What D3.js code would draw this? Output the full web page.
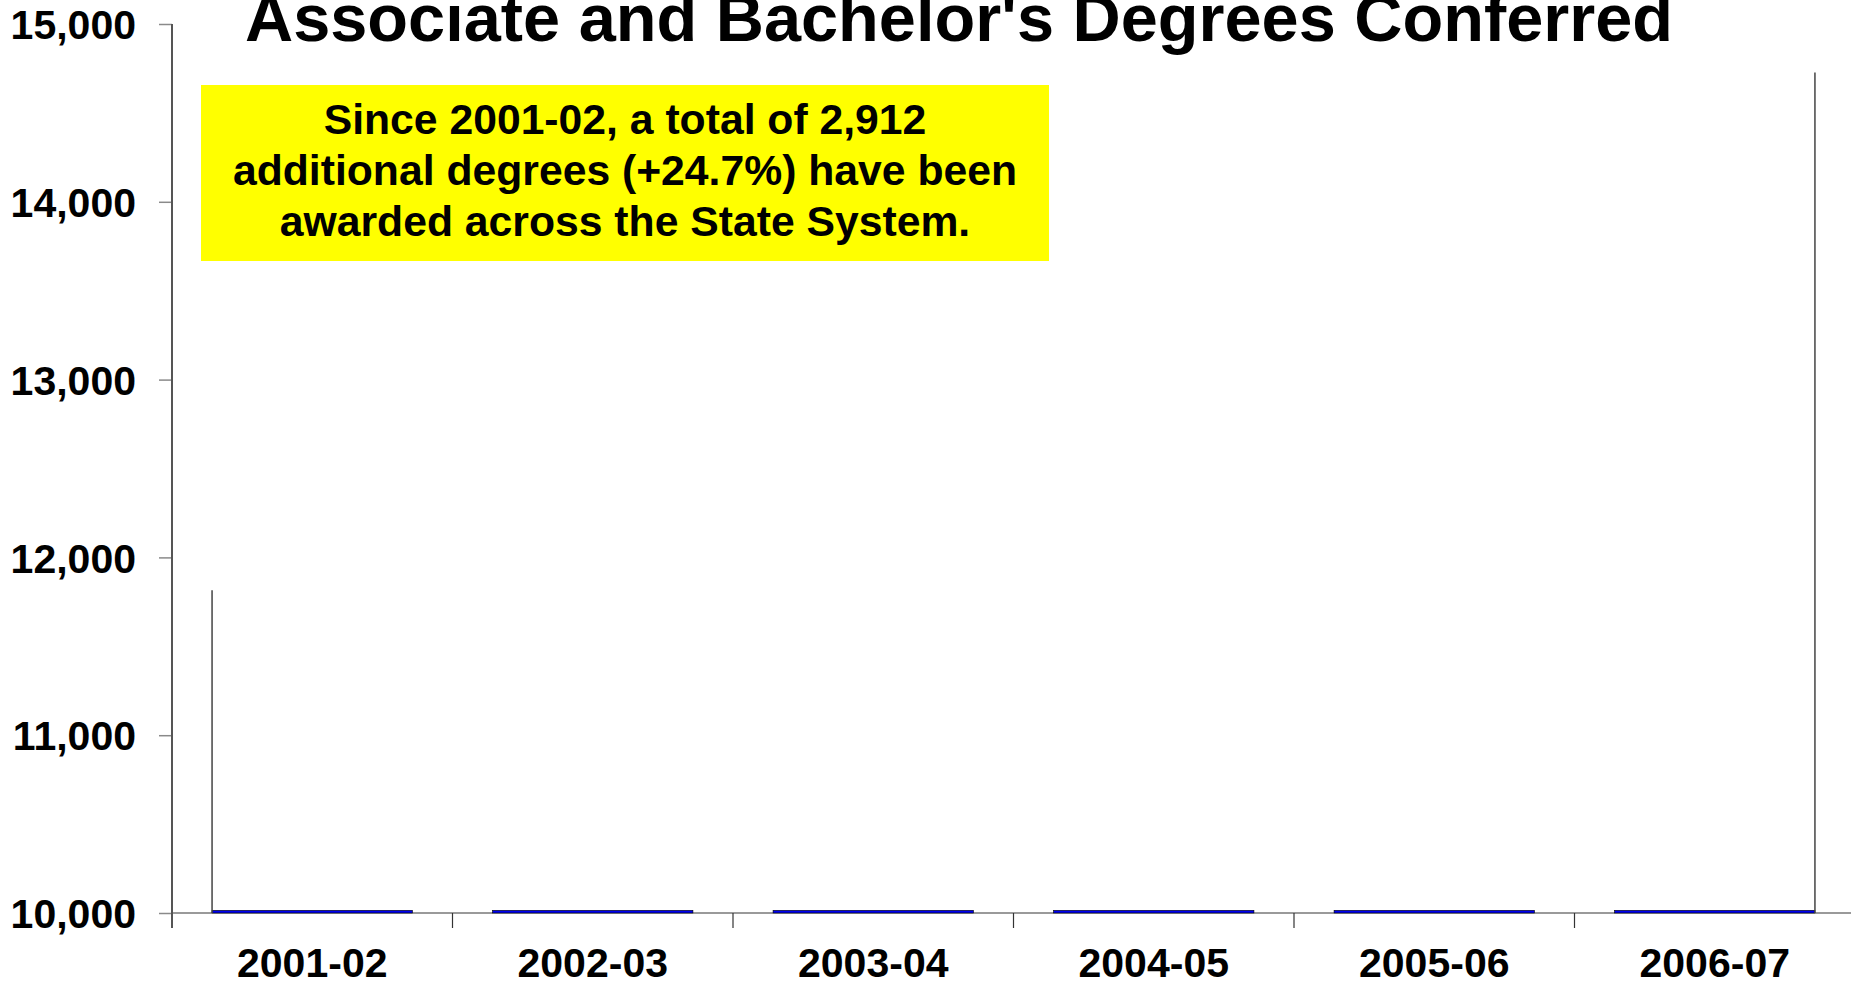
<!DOCTYPE html>
<html>
<head>
<meta charset="utf-8">
<script src="https://cdn.jsdelivr.net/npm/d3@7"></script>
<style>
  body { margin: 0; background: #fff; }
  text { font-family: "Liberation Sans", Arial, sans-serif; font-weight: bold; fill: #000; }
</style>
</head>
<body>
<svg class="chart"></svg>
<script>
// chart data
let years = ["2001-02", "2002-03", "2003-04", "2004-05", "2005-06", "2006-07"];
let barValues = [10015, 10015, 10015, 10015, 10015, 10015]; // bars sit flat on the floor
let edgeYears = ["2001-02", "2006-07"];
let edgeValues = [11815, 14727];
let yTicks = [10000, 11000, 12000, 13000, 14000, 15000];
let titleText = "Associate and Bachelor's Degrees Conferred";
let noteLines = ["Since 2001-02, a total of 2,912",
                 "additional degrees (+24.7%) have been",
                 "awarded across the State System."];

let W = 1851, H = 985;
let margin = {top: 24, left: 172, bottom: 72};
let plotRight = 1855;
let floorY = H - margin.bottom;

let svg = d3.select(".chart")
    .attr("width", W)
    .attr("height", H);

// scales
let x = d3.scaleBand()
    .domain(years)
    .range([margin.left, plotRight])
    .paddingInner(0.2857)
    .paddingOuter(0.1428);

let xCat = d3.scaleBand()
    .domain(years)
    .range([margin.left, plotRight])
    .padding(0);

let y = d3.scaleLinear()
    .domain([10000, 15000])
    .range([floorY, margin.top]);

// y axis
let yAxis = d3.axisLeft(y)
    .tickValues(yTicks)
    .tickFormat(d3.format(","))
    .tickSize(13)
    .tickSizeOuter(0)
    .tickPadding(23);

let gy = svg.append("g")
    .attr("transform", "translate(" + margin.left + ",0)")
    .call(yAxis);
gy.select(".domain").remove();
gy.selectAll(".tick line").attr("stroke", "#8a8a8a").attr("stroke-width", 1.5);
gy.selectAll(".tick text")
    .style("font-size", "41px")
    .attr("fill", "#000")
    .attr("dy", "0.36em");

// floor line
svg.append("line")
    .attr("x1", margin.left).attr("x2", plotRight)
    .attr("y1", y(10000)).attr("y2", y(10000))
    .attr("stroke", "#9a9a9a")
    .attr("stroke-width", 2);

// category boundary ticks
let bounds = years.map(function(d) { return xCat(d); }).concat([plotRight]);
svg.append("g").selectAll("line")
    .data(bounds.slice(1))
    .enter().append("line")
    .attr("x1", function(d) { return d; })
    .attr("x2", function(d) { return d; })
    .attr("y1", y(10000))
    .attr("y2", y(10000) + 15)
    .attr("stroke", "#333")
    .attr("stroke-width", 1.2);

// y axis line
svg.append("line")
    .attr("x1", margin.left).attr("x2", margin.left)
    .attr("y1", y(15000)).attr("y2", y(10000) + 15)
    .attr("stroke", "#555")
    .attr("stroke-width", 2);

// category labels
svg.append("g").selectAll("text")
    .data(years)
    .enter().append("text")
    .attr("x", function(d) { return xCat(d) + xCat.bandwidth() / 2; })
    .attr("y", 977)
    .attr("text-anchor", "middle")
    .style("font-size", "41px")
    .text(function(d) { return d; });

// bars
svg.append("g").selectAll("rect")
    .data(barValues)
    .enter().append("rect")
    .attr("x", function(d, i) { return x(years[i]); })
    .attr("width", x.bandwidth())
    .attr("y", function(d) { return y(d); })
    .attr("height", function(d) { return y(10000) - y(d); })
    .attr("fill", "#0000ee")
    .attr("stroke", "#000")
    .attr("stroke-width", 0.6);

// vertical edge lines (first bar left edge, last bar right edge)
svg.append("g").selectAll("line")
    .data(edgeValues)
    .enter().append("line")
    .attr("x1", function(d, i) { return i == 0 ? x(edgeYears[i]) : x(edgeYears[i]) + x.bandwidth(); })
    .attr("x2", function(d, i) { return i == 0 ? x(edgeYears[i]) : x(edgeYears[i]) + x.bandwidth(); })
    .attr("y1", function(d) { return y(d); })
    .attr("y2", y(10000))
    .attr("stroke", "#444")
    .attr("stroke-width", 1.5);

// title
svg.append("text")
    .attr("x", 959)
    .attr("y", 41)
    .attr("text-anchor", "middle")
    .style("font-size", "66.7px")
    .text(titleText);

// yellow note box
let box = svg.append("g");
box.append("rect")
    .attr("x", 201).attr("y", 85)
    .attr("width", 848).attr("height", 176)
    .attr("fill", "#ffff00");
box.selectAll("text")
    .data(noteLines)
    .enter().append("text")
    .attr("x", 625)
    .attr("y", function(d, i) { return 134 + i * 51; })
    .attr("text-anchor", "middle")
    .style("font-size", "42.7px")
    .text(function(d) { return d; });
</script>
</body>
</html>
